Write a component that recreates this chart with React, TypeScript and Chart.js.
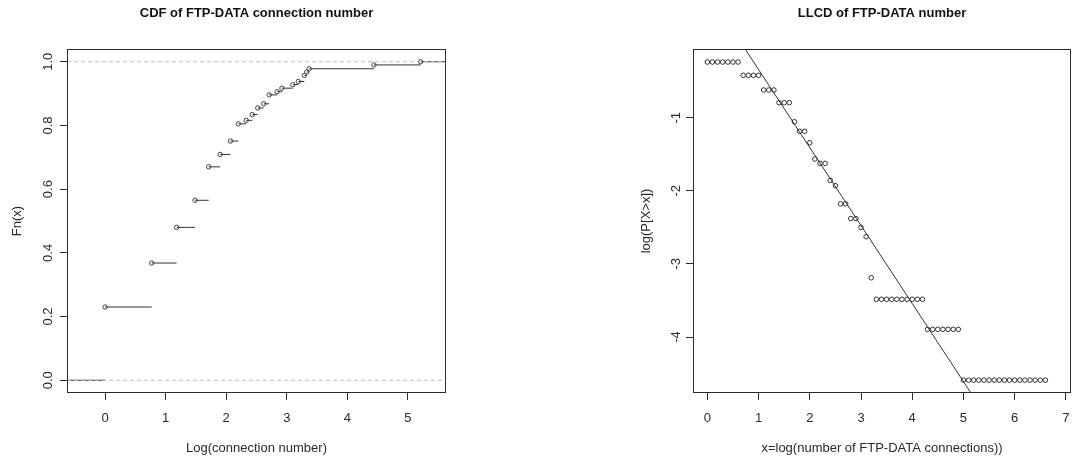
import { useEffect, useRef } from "react";
import { Chart, registerables } from "chart.js";

Chart.register(...registerables);

const FONT = '"Liberation Sans", Arial, Helvetica, sans-serif';
const INK = "#2a2a2a";

// ---- Left panel: empirical CDF of log(connection number) ----
const CDF_X = [0, 0.77, 1.18, 1.485, 1.71, 1.9, 2.07, 2.2, 2.33, 2.43, 2.52, 2.62, 2.71, 2.84, 2.92, 3.1, 3.19, 3.29, 3.33, 3.37, 4.44, 5.21];
const CDF_Y = [0.23, 0.368, 0.48, 0.565, 0.67, 0.709, 0.751, 0.805, 0.816, 0.834, 0.855, 0.868, 0.896, 0.906, 0.917, 0.928, 0.938, 0.957, 0.968, 0.978, 0.99, 1.0];
const CDF_REF_LEVELS = [0, 1];
const CDF_X_TICKS = [0, 1, 2, 3, 4, 5];
const CDF_X_LABELS = ["0", "1", "2", "3", "4", "5"];
const CDF_Y_TICKS = [0, 0.2, 0.4, 0.6, 0.8, 1.0];
const CDF_Y_LABELS = ["0.0", "0.2", "0.4", "0.6", "0.8", "1.0"];
const CDF_X_MIN = -0.63;
const CDF_X_MAX = 5.63;
const CDF_Y_MIN = -0.04;
const CDF_Y_MAX = 1.04;

// ---- Right panel: log-log complementary distribution ----
const LLCD_X = [
  0, 0.1, 0.2, 0.3, 0.4, 0.5, 0.6,
  0.7, 0.8, 0.9, 1.0,
  1.1, 1.2, 1.3,
  1.4, 1.5, 1.6,
  1.7, 1.8, 1.9, 2.0, 2.1, 2.2, 2.3, 2.4, 2.5, 2.6, 2.7, 2.8, 2.9, 3.0, 3.1, 3.2,
  3.3, 3.4, 3.5, 3.6, 3.7, 3.8, 3.9, 4.0, 4.1, 4.2,
  4.3, 4.4, 4.5, 4.6, 4.7, 4.8, 4.9,
  5.0, 5.1, 5.2, 5.3, 5.4, 5.5, 5.6, 5.7, 5.8, 5.9, 6.0, 6.1, 6.2, 6.3, 6.4, 6.5, 6.6,
];
const LLCD_Y = [
  -0.238, -0.238, -0.238, -0.238, -0.238, -0.238, -0.238,
  -0.42, -0.42, -0.42, -0.42,
  -0.621, -0.621, -0.621,
  -0.795, -0.795, -0.795,
  -1.055, -1.186, -1.186, -1.342, -1.565, -1.624, -1.624, -1.857, -1.93, -2.178, -2.178, -2.38, -2.38, -2.5, -2.628, -3.19,
  -3.484, -3.484, -3.484, -3.484, -3.484, -3.484, -3.484, -3.484, -3.484, -3.484,
  -3.895, -3.895, -3.895, -3.895, -3.895, -3.895, -3.895,
  -4.59, -4.59, -4.59, -4.59, -4.59, -4.59, -4.59, -4.59, -4.59, -4.59, -4.59, -4.59, -4.59, -4.59, -4.59, -4.59, -4.59,
];
const FIT_INTERCEPT = 0.726;
const FIT_SLOPE = -1.067;
const LLCD_X_TICKS = [0, 1, 2, 3, 4, 5, 6, 7];
const LLCD_X_LABELS = ["0", "1", "2", "3", "4", "5", "6", "7"];
const LLCD_Y_TICKS = [-1, -2, -3, -4];
const LLCD_Y_LABELS = ["-1", "-2", "-3", "-4"];
const LLCD_X_MIN = -0.28;
const LLCD_X_MAX = 7.1;
const LLCD_Y_MIN = -4.766;
const LLCD_Y_MAX = -0.06;

type Pt = { x: number; y: number | null };

// Horizontal pieces of a right-continuous step function, split by gaps.
function stepSegments(xs: number[], ys: number[], xMin: number, xMax: number): Pt[] {
  const pts: Pt[] = [{ x: xMin, y: 0 }, { x: xs[0], y: 0 }, { x: xs[0], y: null }];
  xs.forEach((x, i) => {
    const end = i + 1 < xs.length ? xs[i + 1] : xMax;
    pts.push({ x, y: ys[i] }, { x: end, y: ys[i] }, { x: end, y: null });
  });
  return pts;
}

function levelLines(levels: number[], xMin: number, xMax: number): Pt[] {
  const pts: Pt[] = [];
  levels.forEach((lv) => pts.push({ x: xMin, y: lv }, { x: xMax, y: lv }, { x: xMax, y: null }));
  return pts;
}

// Full rectangle around the plotting region.
const framePlugin = {
  id: "frame",
  afterDraw(chart: any) {
    const { ctx, chartArea: a } = chart;
    ctx.save();
    ctx.strokeStyle = INK;
    ctx.lineWidth = 1;
    const l = Math.round(a.left) + 0.5;
    const t = Math.round(a.top) + 0.5;
    const r = Math.round(a.right) - 0.5;
    const b = Math.round(a.bottom) - 0.5;
    ctx.strokeRect(l, t, r - l, b - t);
    ctx.restore();
  },
};

// Keep tick labels from pushing the plotting region inward.
function noLabelMargins(s: any) {
  s.paddingLeft = 0;
  s.paddingRight = 0;
  s.paddingTop = 0;
  s.paddingBottom = 0;
}

function xScale(min: number, max: number, ticks: number[], labels: string[], title: string) {
  return {
    type: "linear",
    position: "bottom",
    min,
    max,
    afterBuildTicks: (s: any) => {
      s.ticks = ticks.map((v) => ({ value: v }));
    },
    afterFit: (s: any) => {
      s.height = 65;
      noLabelMargins(s);
    },
    grid: { drawOnChartArea: false, drawTicks: true, tickLength: 7, color: INK, lineWidth: 1 },
    border: { display: false },
    ticks: {
      autoSkip: false,
      maxRotation: 0,
      minRotation: 0,
      padding: 11,
      color: INK,
      font: { family: FONT, size: 13 },
      callback: (v: number) => labels[ticks.indexOf(v)] ?? "",
    },
    title: {
      display: true,
      text: title,
      color: INK,
      font: { family: FONT, size: 13 },
      padding: { top: 0, bottom: 2 },
    },
  };
}

function yScale(
  min: number,
  max: number,
  ticks: number[],
  labels: string[],
  title: string,
  width: number,
  labelPad: number,
  titlePad: number
) {
  return {
    type: "linear",
    position: "left",
    min,
    max,
    afterBuildTicks: (s: any) => {
      s.ticks = ticks.map((v) => ({ value: v }));
    },
    afterFit: (s: any) => {
      s.width = width;
      noLabelMargins(s);
    },
    grid: { drawOnChartArea: false, drawTicks: true, tickLength: 7, color: INK, lineWidth: 1 },
    border: { display: false },
    ticks: {
      autoSkip: false,
      minRotation: 90,
      maxRotation: 90,
      crossAlign: "center",
      padding: labelPad,
      color: INK,
      font: { family: FONT, size: 13 },
      callback: (v: number) => labels[ticks.indexOf(v)] ?? "",
    },
    title: {
      display: true,
      text: title,
      color: INK,
      font: { family: FONT, size: 13 },
      padding: { top: titlePad, bottom: 0 },
    },
  };
}

function titleOpts(text: string) {
  return {
    display: true,
    text,
    fullSize: false,
    color: "#111",
    font: { family: FONT, size: 13, weight: "bold" },
    padding: { top: 6, bottom: 27.4 },
  };
}

function cdfConfig(): any {
  return {
    type: "scatter",
    data: {
      datasets: [
        {
          data: levelLines(CDF_REF_LEVELS, CDF_X_MIN, CDF_X_MAX),
          showLine: true,
          spanGaps: false,
          borderColor: "#bdbdbd",
          borderWidth: 1,
          borderDash: [4, 3],
          pointRadius: 0,
          order: 1,
        },
        {
          data: CDF_X.map((x, i) => ({ x, y: CDF_Y[i] })),
          showLine: false,
          pointRadius: 2.2,
          pointBorderWidth: 1,
          pointBorderColor: "#444",
          pointBackgroundColor: "rgba(255,255,255,0)",
          order: 2,
        },
        {
          data: stepSegments(CDF_X, CDF_Y, CDF_X_MIN, CDF_X_MAX),
          showLine: true,
          spanGaps: false,
          borderColor: "#333",
          borderWidth: 1,
          pointRadius: 0,
          order: 3,
        },
      ],
    },
    options: {
      responsive: false,
      animation: false,
      events: [],
      layout: { padding: { left: 0, right: 92, top: 0, bottom: 0 } },
      plugins: {
        legend: { display: false },
        tooltip: { enabled: false },
        title: titleOpts("CDF of FTP-DATA connection number"),
      },
      scales: {
        x: xScale(CDF_X_MIN, CDF_X_MAX, CDF_X_TICKS, CDF_X_LABELS, "Log(connection number)"),
        y: yScale(CDF_Y_MIN, CDF_Y_MAX, CDF_Y_TICKS, CDF_Y_LABELS, "Fn(x)", 67, 3, 10),
      },
    },
    plugins: [framePlugin],
  };
}

function llcdConfig(): any {
  const fitAt = (x: number) => FIT_INTERCEPT + FIT_SLOPE * x;
  return {
    type: "scatter",
    data: {
      datasets: [
        {
          data: LLCD_X.map((x, i) => ({ x, y: LLCD_Y[i] })),
          showLine: false,
          pointRadius: 2.3,
          pointBorderWidth: 1,
          pointBorderColor: "#333",
          pointBackgroundColor: "rgba(255,255,255,0)",
          order: 1,
        },
        {
          data: [
            { x: LLCD_X_MIN, y: fitAt(LLCD_X_MIN) },
            { x: LLCD_X_MAX, y: fitAt(LLCD_X_MAX) },
          ],
          showLine: true,
          borderColor: "#333",
          borderWidth: 1,
          pointRadius: 0,
          order: 2,
        },
      ],
    },
    options: {
      responsive: false,
      animation: false,
      events: [],
      layout: { padding: { left: 0, right: 1, top: 0, bottom: 0 } },
      plugins: {
        legend: { display: false },
        tooltip: { enabled: false },
        title: titleOpts("LLCD of FTP-DATA number"),
      },
      scales: {
        x: xScale(LLCD_X_MIN, LLCD_X_MAX, LLCD_X_TICKS, LLCD_X_LABELS, "x=log(number of FTP-DATA connections))"),
        y: yScale(LLCD_Y_MIN, LLCD_Y_MAX, LLCD_Y_TICKS, LLCD_Y_LABELS, "log(P[X>x])", 155, 4, 101),
      },
    },
    plugins: [framePlugin],
  };
}

export default function App() {
  const leftRef = useRef<HTMLCanvasElement>(null);
  const rightRef = useRef<HTMLCanvasElement>(null);

  useEffect(() => {
    const left = new Chart(leftRef.current as HTMLCanvasElement, cdfConfig());
    const right = new Chart(rightRef.current as HTMLCanvasElement, llcdConfig());
    return () => {
      left.destroy();
      right.destroy();
    };
  }, []);

  return (
    <div
      style={{
        position: "fixed",
        left: 0,
        top: 0,
        width: 1076,
        height: 458,
        background: "#fff",
        overflow: "hidden",
      }}
    >
      <canvas ref={leftRef} width={538} height={458} style={{ position: "absolute", left: 0, top: 0 }} />
      <canvas ref={rightRef} width={538} height={458} style={{ position: "absolute", left: 538, top: 0 }} />
    </div>
  );
}
